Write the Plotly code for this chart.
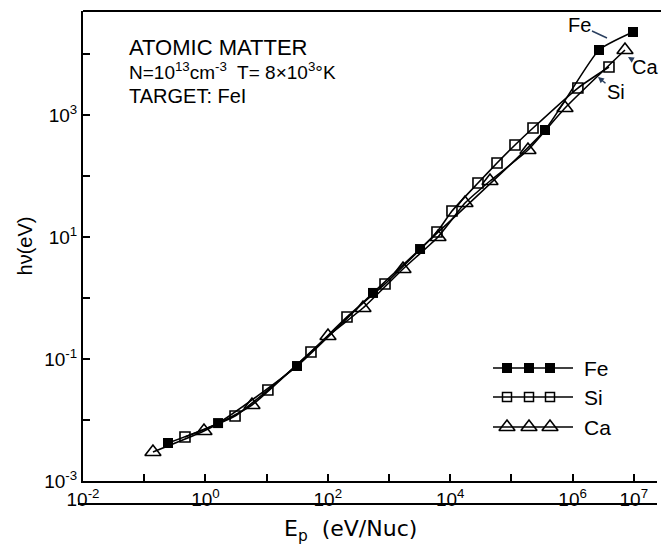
import plotly.graph_objects as go

# ---- data ----
fe_x = [0.245, 1.61, 31.4, 548, 3215, 3.54e5, 2.70e6, 9.7e6]
fe_y = [0.0042, 0.0089, 0.0767, 1.21, 6.35, 568, 11640, 22960]

si_x = [0.464, 3.05, 10.5, 53.1, 206, 861, 6080, 10690, 28440, 58200,
        114500, 225500, 1.22e6, 3.93e6]
si_y = [0.00526, 0.01164, 0.031, 0.130, 0.489, 1.70, 12.1, 26.7, 76.7, 163,
        322, 612, 2770, 6120]

ca_x = [0.139, 0.948, 5.77, 100.7, 376, 1694, 6320, 17460, 44700, 186600,
        7.52e5, 7.18e6]
ca_y = [0.00299, 0.0066, 0.0176, 0.238, 0.686, 2.99, 10.0, 36.0, 82.8, 267,
        1304, 11640]

x_tickvals = [10.0 ** k for k in range(-2, 8)]
x_ticktext = ["10<sup>-2</sup>", "", "10<sup>0</sup>", "", "10<sup>2</sup>", "",
              "10<sup>4</sup>", "", "10<sup>6</sup>", "10<sup>7</sup>"]
y_tickvals = [10.0 ** k for k in range(-3, 5)]
y_ticktext = ["10<sup>-3</sup>", "", "10<sup>-1</sup>", "", "10<sup>1</sup>", "",
              "10<sup>3</sup>", ""]

series_names = ["Fe", "Si", "Ca"]

FONT = "Liberation Sans"
W, H = 661, 553
L, R, T, B = 83, 657, 11, 481  # plot area (axes box) in pixels
PB = 520                        # bottom of the paper area in pixels
pw, ph = R - L, PB - T


def py(pix):
    """pixel row -> paper y"""
    return (PB - pix) / ph


def px(pix):
    """pixel column -> paper x"""
    return (pix - L) / pw


fig = go.Figure()

line_style = dict(color="black", width=1.6, shape="spline", smoothing=0.5)

fig.add_trace(go.Scatter(
    x=ca_x, y=ca_y, mode="lines+markers", name="Ca", line=line_style,
    marker=dict(symbol="triangle-up-open", size=14, color="black",
                line=dict(width=1.6, color="black")),
    showlegend=False))
fig.add_trace(go.Scatter(
    x=si_x, y=si_y, mode="lines+markers", name="Si", line=line_style,
    marker=dict(symbol="square-open", size=10, color="black",
                line=dict(width=1.6, color="black")),
    showlegend=False))
fig.add_trace(go.Scatter(
    x=fe_x, y=fe_y, mode="lines+markers", name="Fe", line=line_style,
    marker=dict(symbol="square", size=10, color="black"),
    showlegend=False))

# ---- custom legend (pixel overlay axis) ----
leg_rows = [368, 397, 427]
leg_symbols = [dict(symbol="square", size=10, color="black"),
               dict(symbol="square-open", size=9, color="black",
                    line=dict(width=1.5, color="black")),
               dict(symbol="triangle-up-open", size=14, color="black",
                    line=dict(width=1.6, color="black"))]
leg_mx = [507, 529, 550]
shapes = []
annotations = []
for name, yy, sym in zip(series_names, leg_rows, leg_symbols):
    shapes.append(dict(type="line", xref="x2", yref="y2", x0=493, x1=573,
                       y0=yy, y1=yy, line=dict(color="black", width=1.6)))
    fig.add_trace(go.Scatter(x=leg_mx, y=[yy] * 3, mode="markers",
                             marker=sym, xaxis="x2", yaxis="y2",
                             showlegend=False, hoverinfo="skip"))
    annotations.append(dict(x=582, y=yy, xref="x2", yref="y2", text=name,
                            showarrow=False, xanchor="left", yanchor="middle",
                            font=dict(family=FONT, size=21, color="black")))

# top border
shapes.append(dict(type="line", xref="paper", yref="paper",
                   x0=0, x1=px(W), y0=1, y1=1,
                   line=dict(color="black", width=2)))

# second (scan) line through the x tick labels, drawn as an annotation arrow
annotations.append(dict(x=1.0, y=py(504), xref="paper", yref="paper",
                        ax=-(R - 76), ay=0, text="&nbsp;", showarrow=True,
                        arrowhead=0, arrowwidth=1.8, arrowcolor="black",
                        standoff=0, startstandoff=0,
                        font=dict(size=2, color="white")))

# header text
annotations += [
    dict(x=127, y=47, xref="x2", yref="y2", text="ATOMIC MATTER",
         showarrow=False, xanchor="left", yanchor="middle",
         font=dict(family=FONT, size=22, color="black")),
    dict(x=127, y=71, xref="x2", yref="y2",
         text="N=10<sup>13</sup>cm<sup>-3</sup>  T= 8×10<sup>3</sup>°K",
         showarrow=False, xanchor="left", yanchor="middle",
         font=dict(family=FONT, size=19, color="black")),
    dict(x=127, y=96, xref="x2", yref="y2", text="TARGET: FeI",
         showarrow=False, xanchor="left", yanchor="middle",
         font=dict(family=FONT, size=20, color="black")),
]

# curve labels with arrows
arrow_font = dict(family=FONT, size=20, color="black")
annotations += [
    dict(x=607, y=38, xref="x2", yref="y2", ax=-28, ay=-13, text="Fe",
         showarrow=True, arrowhead=0, arrowwidth=1.5, font=arrow_font),
    dict(x=628, y=57, xref="x2", yref="y2", ax=17, ay=10, text="Ca",
         showarrow=True, arrowhead=2, arrowsize=0.8, arrowwidth=1.5,
         font=arrow_font),
    dict(x=598, y=77, xref="x2", yref="y2", ax=18, ay=15, text="Si",
         showarrow=True, arrowhead=2, arrowsize=0.8, arrowwidth=1.5,
         font=arrow_font),
]

# x-axis title (placed to match the reference)
annotations.append(dict(x=px(350), y=py(530), xref="paper", yref="paper",
                        text="E<sub>p</sub>  (eV/Nuc)",
                        showarrow=False, xanchor="center", yanchor="middle",
                        font=dict(family="DejaVu Sans", size=22,
                                  color="black")))

ydom = [py(B), 1.0]
xrange_ = [-2, -2 + (R - L) / 61.2]

fig.update_layout(
    width=W, height=H,
    margin=dict(l=L, r=W - R, t=T, b=H - PB, autoexpand=False),
    paper_bgcolor="white", plot_bgcolor="white",
    font=dict(family=FONT, size=18, color="black"),
    xaxis=dict(type="log", range=xrange_,
               tickvals=x_tickvals, ticktext=x_ticktext, automargin=False,
               ticks="inside", ticklen=7, tickwidth=1.5, tickcolor="black",
               showline=True, linecolor="black", linewidth=2,
               mirror=False, showgrid=False, zeroline=False,
               tickfont=dict(family=FONT, size=19)),
    yaxis=dict(type="log", range=[-3, 3 + (115 - T) / 61.0], domain=ydom,
               tickvals=y_tickvals, ticktext=y_ticktext, automargin=False,
               ticks="inside", ticklen=7, tickwidth=1.5, tickcolor="black",
               showline=True, linecolor="black", linewidth=2,
               mirror=False, showgrid=False, zeroline=False,
               tickfont=dict(family=FONT, size=19),
               title=dict(text="hν(eV)", font=dict(family=FONT, size=20),
                          standoff=6)),
    xaxis2=dict(overlaying="x", range=[L, R], visible=False, fixedrange=True),
    yaxis2=dict(overlaying="y", range=[B, T], domain=ydom, visible=False,
                fixedrange=True),
    shapes=shapes,
    annotations=annotations,
)

fig.write_html("out.html", config={"displayModeBar": False},
               post_script="document.body.style.margin='0';"
                           "document.body.style.padding='0';")
